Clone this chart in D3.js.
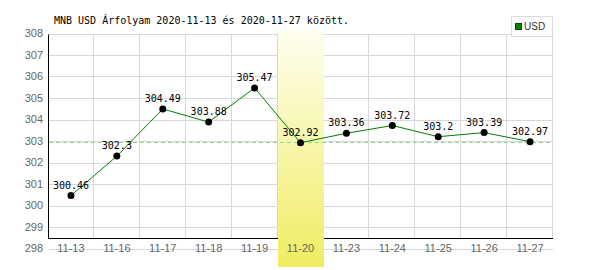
<!DOCTYPE html>
<html lang="hu">
<head>
  <meta charset="utf-8">
  <title>MNB USD árfolyam</title>
  <script src="https://d3js.org/d3.v7.min.js"></script>
</head>
<style>
  body { margin: 0; background: #fff; }
  svg { display: block; }
</style>
<body>
  <div class="chart"></div>
</body>
<script>
// data
var dates = ["11-13", "11-16", "11-17", "11-18", "11-19", "11-20", "11-23", "11-24", "11-25", "11-26", "11-27"];
var rates = [300.46, 302.3, 304.49, 303.88, 305.47, 302.92, 303.36, 303.72, 303.2, 303.39, 302.97];
var yTicks = [298, 299, 300, 301, 302, 303, 304, 305, 306, 307, 308];
var highlightDate = "11-20";
var refValue = 302.97;
var title = "MNB USD Árfolyam 2020-11-13 és 2020-11-27 között.";
var seriesName = "USD";

var width = 600, height = 270;
var plotLeft = 48, plotRight = 553, plotTop = 33.5, plotBottom = 248.5;

var svg = d3.select(".chart")
  .append("svg")
  .attr("width", width)
  .attr("height", height);

var x = d3.scaleBand().domain(dates).range([plotLeft, plotRight]);
var y = d3.scaleLinear().domain([298, 308]).range([plotBottom, plotTop]);

function crisp(v) { return Math.round(v) + 0.5; }

// gradient for highlighted day
var grad = svg.append("defs").append("linearGradient")
  .attr("id", "hl")
  .attr("x1", 0).attr("y1", 0).attr("x2", 0).attr("y2", 1);
grad.append("stop").attr("offset", "0%").attr("stop-color", "#fefef0");
grad.append("stop").attr("offset", "100%").attr("stop-color", "#f0ed62");

// horizontal grid
svg.selectAll(".hgrid")
  .data(yTicks)
  .enter().append("line")
  .attr("class", "hgrid")
  .attr("x1", plotLeft + 1).attr("x2", plotRight)
  .attr("y1", function(d) { return crisp(y(d)); })
  .attr("y2", function(d) { return crisp(y(d)); })
  .attr("stroke", "#d8d8d8");

// vertical grid at band edges
var axisY = crisp(y(298.5));
svg.selectAll(".vgrid")
  .data(dates)
  .enter().append("line")
  .attr("class", "vgrid")
  .attr("x1", function(d) { return crisp(x(d) + x.bandwidth()) - 1; })
  .attr("x2", function(d) { return crisp(x(d) + x.bandwidth()) - 1; })
  .attr("y1", crisp(y(308)))
  .attr("y2", axisY)
  .attr("stroke", "#d8d8d8");

// axes lines
svg.append("line")
  .attr("x1", 48.5).attr("x2", 48.5)
  .attr("y1", crisp(y(308))).attr("y2", axisY)
  .attr("stroke", "#000");
svg.append("line")
  .attr("x1", 48).attr("x2", plotRight)
  .attr("y1", axisY).attr("y2", axisY)
  .attr("stroke", "#000");

// highlight column
svg.append("rect")
  .attr("x", Math.round(x(highlightDate)))
  .attr("y", 30)
  .attr("width", Math.round(x.bandwidth()))
  .attr("height", 237)
  .attr("fill", "url(#hl)");

// reference dashed line
svg.append("line")
  .attr("x1", plotLeft + 1).attr("x2", plotRight)
  .attr("y1", crisp(y(refValue))).attr("y2", crisp(y(refValue)))
  .attr("stroke", "#90d890")
  .attr("stroke-dasharray", "4,3");

// y tick labels
svg.selectAll(".ylab")
  .data(yTicks)
  .enter().append("text")
  .attr("class", "ylab")
  .attr("x", 43)
  .attr("y", function(d) { return y(d); })
  .attr("dy", "0.36em")
  .attr("text-anchor", "end")
  .style("font", "11px 'Liberation Sans', Arial, sans-serif")
  .style("fill", "#666")
  .text(function(d) { return d; });

// x tick labels
svg.selectAll(".xlab")
  .data(dates)
  .enter().append("text")
  .attr("class", "xlab")
  .attr("x", function(d) { return x(d) + x.bandwidth() / 2; })
  .attr("y", 248)
  .attr("dy", "0.36em")
  .attr("text-anchor", "middle")
  .style("font", "11px 'Liberation Sans', Arial, sans-serif")
  .style("fill", "#666")
  .text(function(d) { return d; });

// the rate line
var line = d3.line()
  .x(function(d, i) { return x(dates[i]) + x.bandwidth() / 2; })
  .y(function(d) { return y(d); });

svg.append("path")
  .datum(rates)
  .attr("d", line)
  .attr("fill", "none")
  .attr("stroke", "#008000")
  .attr("stroke-width", 1);

svg.selectAll(".dot")
  .data(rates)
  .enter().append("circle")
  .attr("class", "dot")
  .attr("cx", function(d, i) { return x(dates[i]) + x.bandwidth() / 2; })
  .attr("cy", function(d) { return y(d); })
  .attr("r", 3.5)
  .attr("fill", "#000");

svg.selectAll(".vlab")
  .data(rates)
  .enter().append("text")
  .attr("class", "vlab")
  .attr("x", function(d, i) { return x(dates[i]) + x.bandwidth() / 2; })
  .attr("y", function(d) { return y(d) - 7; })
  .attr("text-anchor", "middle")
  .style("font", "10px 'DejaVu Sans Mono', 'Liberation Mono', monospace")
  .style("fill", "#000")
  .text(function(d) { return d; });

// title
svg.append("text")
  .attr("x", 54)
  .attr("y", 23.5)
  .style("font", "10px 'DejaVu Sans Mono', 'Liberation Mono', monospace")
  .style("fill", "#000")
  .text(title);

// legend
var legend = svg.append("g");
legend.append("rect")
  .attr("x", 511.5).attr("y", 16.5)
  .attr("width", 41).attr("height", 20)
  .attr("fill", "#fff")
  .attr("stroke", "#ddd");
legend.append("rect")
  .attr("x", 515.5).attr("y", 23.5)
  .attr("width", 6).attr("height", 6)
  .attr("fill", "#008000")
  .attr("stroke", "#005000");
legend.append("text")
  .attr("x", 524).attr("y", 30)
  .style("font", "10px 'Liberation Sans', Arial, sans-serif")
  .style("fill", "#333")
  .text(seriesName);
</script>
</html>
